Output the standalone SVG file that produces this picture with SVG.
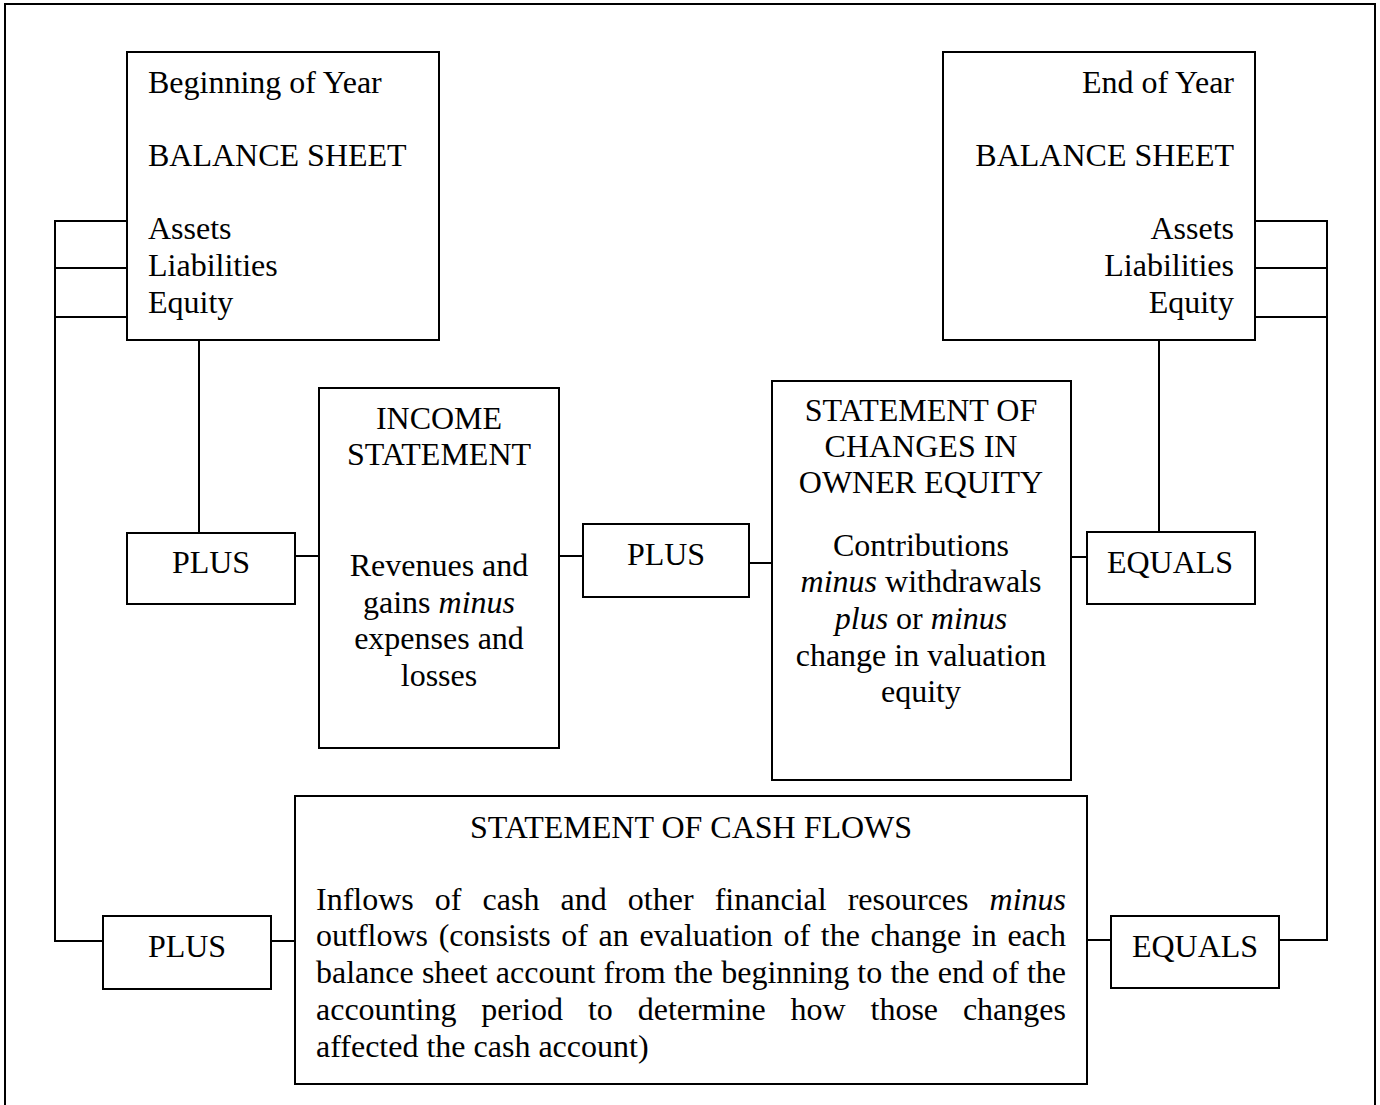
<svg xmlns="http://www.w3.org/2000/svg" width="1380" height="1105" viewBox="0 0 1380 1105">
<style>
.box{fill:#fff;stroke:#000;stroke-width:2}
.ln{fill:none;stroke:#000;stroke-width:2}
text{font-family:"Liberation Serif","Times New Roman",serif;font-size:32px;fill:#000}
.c{text-anchor:middle}
.r{text-anchor:end}
.i{font-style:italic}
</style>
<rect x="0" y="0" width="1380" height="1105" fill="#fff"/>
<rect x="5" y="4" width="1370" height="1115" class="ln"/>
<g id="connectors">
<path class="ln" d="M127 221H55V941H103M55 268H127M55 317H127"/>
<path class="ln" d="M199 340V533"/>
<path class="ln" d="M295 556H319M559 556H583M749 563H772M1071 557H1087"/>
<path class="ln" d="M1159 340V532"/>
<path class="ln" d="M1255 221H1327V940H1279M1255 268H1327M1255 317H1327"/>
<path class="ln" d="M271 941H295M1087 940H1111"/>
</g>
<g id="bs-begin">
<rect class="box" x="127" y="52" width="312" height="288"/>
<text x="148" y="93">Beginning of Year</text>
<text x="148" y="166">BALANCE SHEET</text>
<text x="148" y="239">Assets</text>
<text x="148" y="276">Liabilities</text>
<text x="148" y="313">Equity</text>
</g>
<g id="bs-end">
<rect class="box" x="943" y="52" width="312" height="288"/>
<text class="r" x="1234" y="93">End of Year</text>
<text class="r" x="1234" y="166">BALANCE SHEET</text>
<text class="r" x="1234" y="239">Assets</text>
<text class="r" x="1234" y="276">Liabilities</text>
<text class="r" x="1234" y="313">Equity</text>
</g>
<g id="plus1">
<rect class="box" x="127" y="533" width="168" height="71"/>
<text class="c" x="211" y="573">PLUS</text>
</g>
<g id="income">
<rect class="box" x="319" y="388" width="240" height="360"/>
<text class="c" x="439" y="429">INCOME</text>
<text class="c" x="439" y="465">STATEMENT</text>
<text class="c" x="439" y="576">Revenues and</text>
<text class="c" x="439" y="613">gains <tspan class="i">minus</tspan></text>
<text class="c" x="439" y="649">expenses and</text>
<text class="c" x="439" y="686">losses</text>
</g>
<g id="plus2">
<rect class="box" x="583" y="524" width="166" height="73"/>
<text class="c" x="666" y="565">PLUS</text>
</g>
<g id="owner-equity">
<rect class="box" x="772" y="381" width="299" height="399"/>
<text class="c" x="921" y="421">STATEMENT OF</text>
<text class="c" x="921" y="457">CHANGES IN</text>
<text class="c" x="921" y="493">OWNER EQUITY</text>
<text class="c" x="921" y="556">Contributions</text>
<text class="c" x="921" y="592"><tspan class="i">minus</tspan> withdrawals</text>
<text class="c" x="921" y="629"><tspan class="i">plus</tspan> or <tspan class="i">minus</tspan></text>
<text class="c" x="921" y="666">change in valuation</text>
<text class="c" x="921" y="702">equity</text>
</g>
<g id="equals1">
<rect class="box" x="1087" y="532" width="168" height="72"/>
<text class="c" x="1170" y="573">EQUALS</text>
</g>
<g id="plus3">
<rect class="box" x="103" y="916" width="168" height="73"/>
<text class="c" x="187" y="957">PLUS</text>
</g>
<g id="cash-flows">
<rect class="box" x="295" y="796" width="792" height="288"/>
<text class="c" x="691" y="838">STATEMENT OF CASH FLOWS</text>
<text y="910"><tspan x="316">Inflows</tspan><tspan x="434.8">of</tspan><tspan x="482.6">cash</tspan><tspan x="560.5">and</tspan><tspan x="627.8">other</tspan><tspan x="714.7">financial</tspan><tspan x="847.7">resources</tspan><tspan x="989.6" class="i">minus</tspan></text>
<text y="946"><tspan x="316">outflows</tspan><tspan x="438.7">(consists</tspan><tspan x="561.3">of</tspan><tspan x="598.6">an</tspan><tspan x="639.5">evaluation</tspan><tspan x="783.5">of</tspan><tspan x="820.8">the</tspan><tspan x="870.6">change</tspan><tspan x="971.8">in</tspan><tspan x="1007.4">each</tspan></text>
<text y="983"><tspan x="316">balance</tspan><tspan x="421.9">sheet</tspan><tspan x="495.8">account</tspan><tspan x="603.5">from</tspan><tspan x="673.9">the</tspan><tspan x="721.2">beginning</tspan><tspan x="857.3">to</tspan><tspan x="890.4">the</tspan><tspan x="937.7">end</tspan><tspan x="992.1">of</tspan><tspan x="1026.9">the</tspan></text>
<text y="1020"><tspan x="316">accounting</tspan><tspan x="481.3">period</tspan><tspan x="587.9">to</tspan><tspan x="637.7">determine</tspan><tspan x="790.5">how</tspan><tspan x="870.5">those</tspan><tspan x="962.9">changes</tspan></text>
<text x="316" y="1057">affected the cash account)</text>
</g>
<g id="equals2">
<rect class="box" x="1111" y="916" width="168" height="72"/>
<text class="c" x="1195" y="957">EQUALS</text>
</g>
</svg>
